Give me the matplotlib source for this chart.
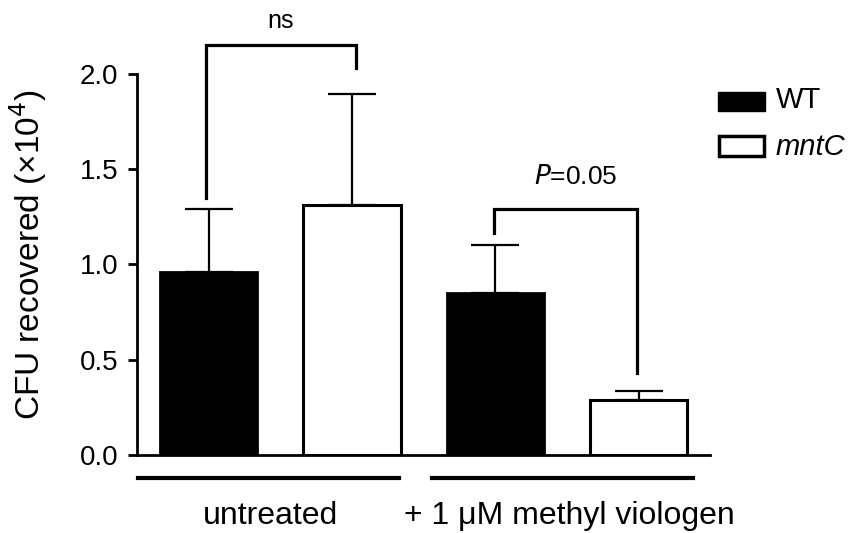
import matplotlib.pyplot as plt
from matplotlib.patches import Rectangle

plt.rcParams['font.family'] = ['Liberation Sans', 'DejaVu Sans']

# bar heights and upper error (x10^4 CFU)
groups = ["untreated", "+ 1 \u03bcM methyl viologen"]
wt_vals = [0.96, 0.85]
wt_err = [0.33, 0.25]
mntc_vals = [1.31, 0.29]
mntc_err = [0.585, 0.045]
yticks = [0.0, 0.5, 1.0, 1.5, 2.0]

# bars laid out WT, mntC, WT, mntC
xpos_wt = [0, 2]
xpos_mntc = [1, 3]
width = 0.68

fig = plt.figure(figsize=(8.65, 5.33), dpi=100)
ax = fig.add_axes([0.1584, 0.1463, 0.6626, 0.715])

ax.bar(xpos_wt, wt_vals, width, color='black', edgecolor='black', linewidth=2, zorder=3)
ax.bar(xpos_mntc, mntc_vals, width, color='white', edgecolor='black', linewidth=2.2, zorder=3)
ax.errorbar(xpos_wt, wt_vals, yerr=[[0, 0], wt_err], fmt='none', ecolor='black',
            elinewidth=1.6, capsize=17, capthick=1.6, zorder=2)
ax.errorbar(xpos_mntc, mntc_vals, yerr=[[0, 0], mntc_err], fmt='none', ecolor='black',
            elinewidth=1.6, capsize=17, capthick=1.6, zorder=2)

ax.set_xlim(-0.5, 3.5)
ax.set_ylim(0, 2.0)
ax.set_yticks(yticks)
ax.set_yticklabels(["%.1f" % t for t in yticks], fontsize=20)
ax.set_xticks([])
ax.tick_params(axis='y', direction='out', length=6.5, width=2, pad=7)
for s in ['top', 'right']:
    ax.spines[s].set_visible(False)
ax.spines['left'].set_linewidth(2)
ax.spines['bottom'].set_linewidth(2)
ax.set_ylabel("CFU recovered (\u00d710$^{4}$)", fontsize=24)
ax.yaxis.set_label_coords(-0.153, 0.525)

# significance brackets
def bracket(x1, x2, ytop, y1, y2):
    ax.plot([x1, x1, x2, x2], [y1, ytop, ytop, y2], color='black', lw=2.3,
            clip_on=False, solid_joinstyle='miter')

bracket(-0.02, 1.03, 2.15, 1.35, 2.03)
ax.text(0.5, 2.28, "ns", ha='center', va='center', fontsize=18)
bracket(1.99, 2.99, 1.29, 1.165, 0.43)
ax.text(2.56, 1.46, "$\\it{P}$=0.05", ha='center', va='center', fontsize=19)

# group underlines and labels
ax.plot([-0.49, 1.33], [-0.121, -0.121], color='black', lw=3, clip_on=False)
ax.plot([1.56, 3.38], [-0.121, -0.121], color='black', lw=3, clip_on=False)
ax.text(0.43, -0.362, groups[0], ha='center', va='baseline', fontsize=23)
ax.text(2.515, -0.362, groups[1], ha='center', va='baseline', fontsize=23)

# legend drawn by hand
W, H = 865.0, 533.0
fig.patches.append(Rectangle((718 / W, 1 - 111 / H), 47 / W, 19 / H, transform=fig.transFigure,
                             facecolor='black', edgecolor='black', lw=1))
fig.patches.append(Rectangle((719 / W, 1 - 156 / H), 45 / W, 20 / H, transform=fig.transFigure,
                             facecolor='white', edgecolor='black', lw=2.5))
fig.text(776 / W, 1 - 108 / H, "WT", ha='left', va='baseline', fontsize=21)
fig.text(776 / W, 1 - 155 / H, "mntC", ha='left', va='baseline', fontsize=21, style='italic')

fig.savefig("out.png", dpi=100)
